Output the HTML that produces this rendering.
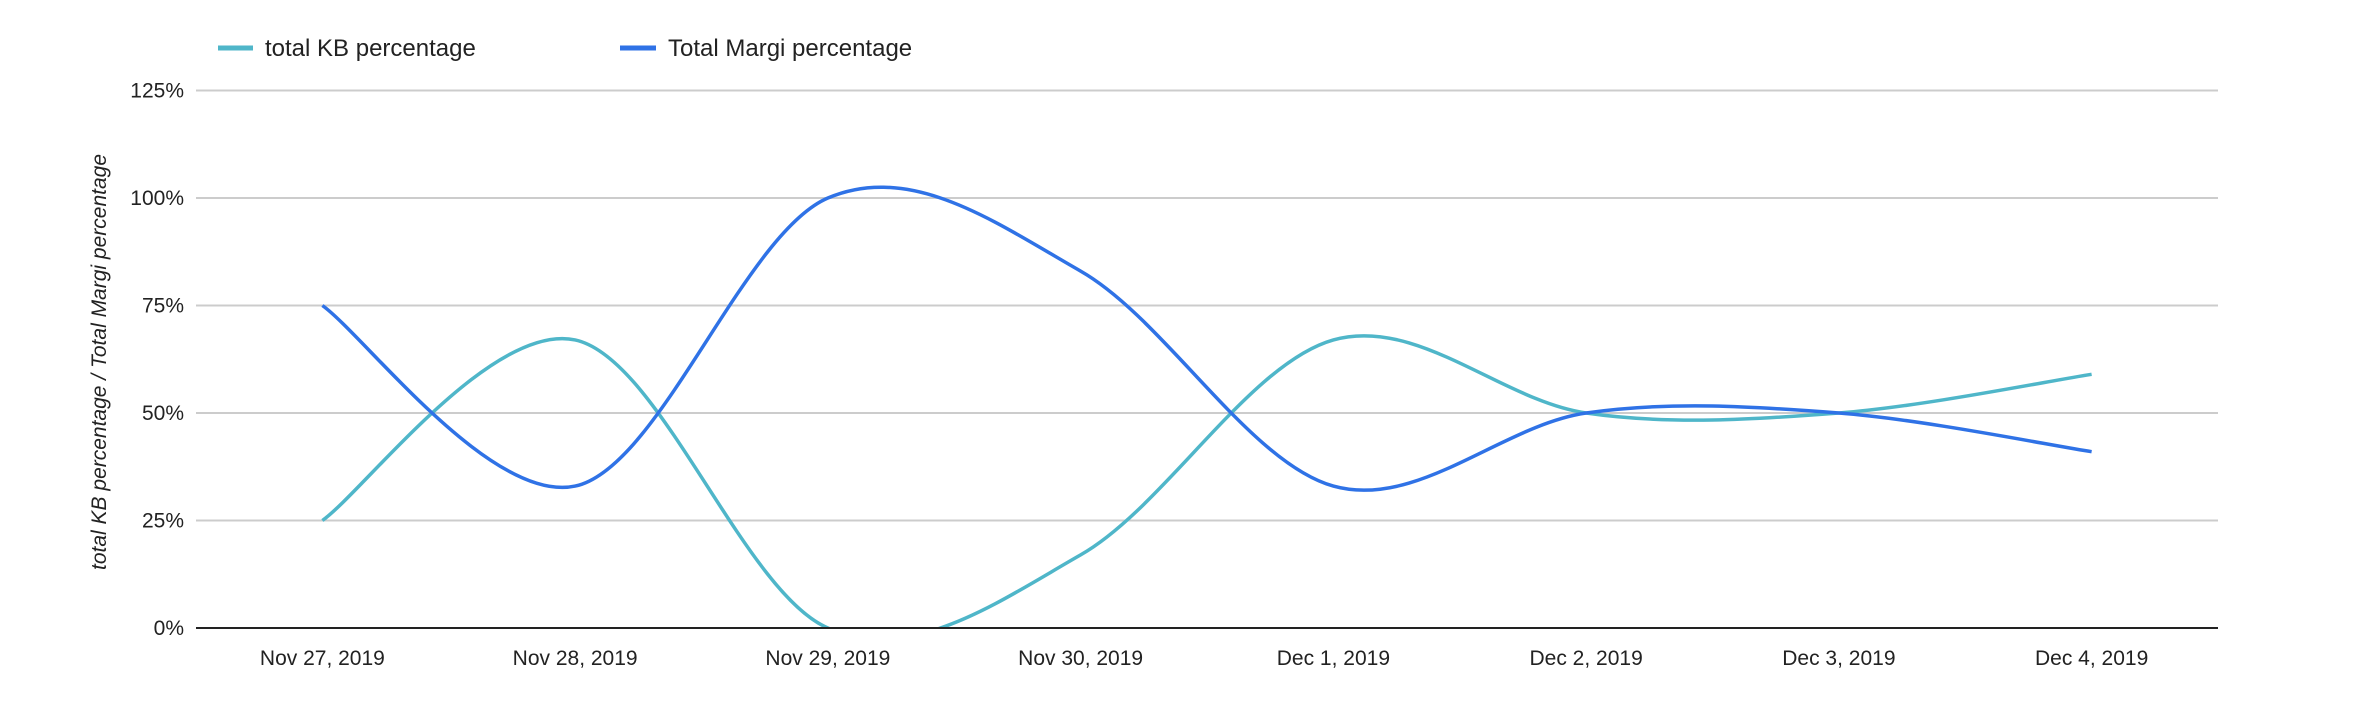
<!DOCTYPE html>
<html><head><meta charset="utf-8"><style>
body{margin:0;background:#fff;}
svg text{font-family:"Liberation Sans",sans-serif;fill:#222;}
</style></head><body>
<svg id="chart" width="2366" height="712" xmlns="http://www.w3.org/2000/svg">
<defs><clipPath id="clip"><rect x="196" y="85" width="2022" height="543"/></clipPath></defs>
<g>
<g><line x1="218" y1="48" x2="253" y2="48" stroke="#4fb6c9" stroke-width="5"/><text x="265" y="56" font-size="24">total KB percentage</text></g>
<g><line x1="620" y1="48" x2="656" y2="48" stroke="#2f72e6" stroke-width="5"/><text x="668" y="56" font-size="24">Total Margi percentage</text></g>
</g>
<g id="grid"></g>
<g id="yticks"></g>
<g id="xticks"></g>
<text transform="translate(106,362) rotate(-90)" text-anchor="middle" font-size="21" font-style="italic">total KB percentage / Total Margi percentage</text>
<g id="series" clip-path="url(#clip)"></g>
<line x1="196" y1="628" x2="2218" y2="628" stroke="#222" stroke-width="2"/>
</svg>
<script>
const categories=["Nov 27, 2019","Nov 28, 2019","Nov 29, 2019","Nov 30, 2019","Dec 1, 2019","Dec 2, 2019","Dec 3, 2019","Dec 4, 2019"];
const kbValues=[25,67,0,17,67,50,50,59];
const margiValues=[75,33,100,83,33,50,50,41];
const yTicks=[0,25,50,75,100,125];
const L=196,R=2218,T=90.5,B=628,yMax=125;
const NS="http://www.w3.org/2000/svg";
const band=(R-L)/categories.length;
function xS(i){return L+band*(i+0.5);}
function yS(v){return B-(v/yMax)*(B-T);}
const grid=document.getElementById('grid'),yt=document.getElementById('yticks'),xt=document.getElementById('xticks'),ser=document.getElementById('series');
yTicks.forEach(v=>{
  if(v>0){const l=document.createElementNS(NS,'line');
  
  
  l.setAttribute('x1',L);l.setAttribute('x2',R);l.setAttribute('y1',yS(v));l.setAttribute('y2',yS(v));
  l.setAttribute('stroke','#cccccc');l.setAttribute('stroke-width','2');grid.appendChild(l);}
  const t=document.createElementNS(NS,'text');
  
  
  t.setAttribute('x',184);t.setAttribute('y',yS(v)+7);t.setAttribute('text-anchor','end');t.setAttribute('font-size','21');
  t.textContent=v+'%';yt.appendChild(t);
});
categories.forEach((c,i)=>{
  const t=document.createElementNS(NS,'text');
  
  
  t.setAttribute('x',xS(i));t.setAttribute('y',665);t.setAttribute('text-anchor','middle');t.setAttribute('font-size','21');
  t.textContent=c;xt.appendChild(t);
});
function path(vals){
  const p=vals.map((v,i)=>[xS(i),yS(v)]);
  let d='M'+p[0][0]+','+p[0][1];
  for(let i=0;i<p.length-1;i++){
    const p0=p[Math.max(i-1,0)],p1=p[i],p2=p[i+1],p3=p[Math.min(i+2,p.length-1)];
    const c1=[p1[0]+(p2[0]-p0[0])/6,p1[1]+(p2[1]-p0[1])/6];
    const c2=[p2[0]-(p3[0]-p1[0])/6,p2[1]-(p3[1]-p1[1])/6];
    d+=' C'+c1+' '+c2+' '+p2;
  }
  return d;
}
[[kbValues,'#4fb6c9','series-kb-line'],[margiValues,'#2f72e6','series-margi-line']].forEach(s=>{
  const e=document.createElementNS(NS,'path');
  
  
  e.setAttribute('d',path(s[0]));e.setAttribute('fill','none');e.setAttribute('stroke',s[1]);e.setAttribute('stroke-width','3.5');
  ser.appendChild(e);
});
</script>
</body></html>
